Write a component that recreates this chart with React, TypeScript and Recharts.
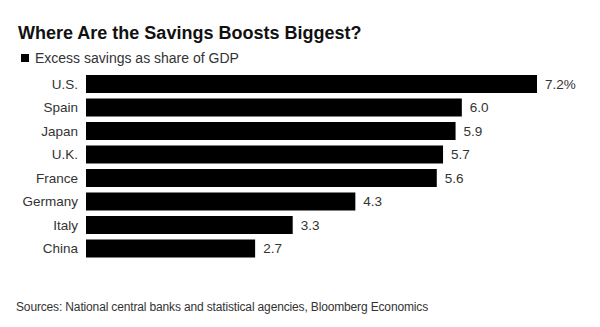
import React from "react";
import { BarChart, Bar, XAxis, YAxis, LabelList } from "recharts";

const countries = ["U.S.", "Spain", "Japan", "U.K.", "France", "Germany", "Italy", "China"];
const excessSavings = [7.2, 6.0, 5.9, 5.7, 5.6, 4.3, 3.3, 2.7];

const data = countries.map((c, i) => ({
  country: c,
  value: excessSavings[i],
  label: i === 0 ? excessSavings[i].toFixed(1) + "%" : excessSavings[i].toFixed(1),
}));

const FONT = "'Liberation Sans', Arial, Helvetica, sans-serif";

export default function App() {
  return (
    <div
      style={{
        position: "absolute",
        left: 0,
        top: 0,
        width: 600,
        height: 327,
        background: "#fff",
        fontFamily: FONT,
        overflow: "hidden",
      }}
    >
      <div
        style={{
          position: "absolute",
          left: 18,
          top: 23,
          fontSize: 18,
          lineHeight: "normal",
          fontWeight: 700,
          color: "#111",
          whiteSpace: "nowrap",
        }}
      >
        Where Are the Savings Boosts Biggest?
      </div>
      <div
        style={{
          position: "absolute",
          left: 21,
          top: 54,
          width: 8,
          height: 8,
          background: "#000",
        }}
      />
      <div
        style={{
          position: "absolute",
          left: 35,
          top: 50,
          fontSize: 14,
          lineHeight: "normal",
          color: "#333",
          whiteSpace: "nowrap",
        }}
      >
        Excess savings as share of GDP
      </div>
      <div style={{ position: "absolute", left: 0, top: 0 }}>
        <BarChart
          width={600}
          height={327}
          data={data}
          layout="vertical"
          margin={{ top: 72, right: 63, bottom: 67, left: 0 }}
          barCategoryGap={0}
        >
          <XAxis type="number" domain={[0, 7.2]} hide />
          <YAxis
            type="category"
            dataKey="country"
            width={86}
            axisLine={false}
            tickLine={false}
            tick={{ fontSize: 13.5, fill: "#333", fontFamily: FONT }}
            interval={0}
          />
          <Bar dataKey="value" fill="#000" barSize={18} isAnimationActive={false}>
            <LabelList
              dataKey="label"
              position="right"
              offset={8}
              style={{ fontSize: 13.5, fill: "#333", fontFamily: FONT }}
            />
          </Bar>
        </BarChart>
      </div>
      <div
        style={{
          position: "absolute",
          left: 16,
          top: 300,
          fontSize: 12,
          lineHeight: "normal",
          letterSpacing: -0.15,
          color: "#333",
          whiteSpace: "nowrap",
        }}
      >
        Sources: National central banks and statistical agencies, Bloomberg Economics
      </div>
    </div>
  );
}
